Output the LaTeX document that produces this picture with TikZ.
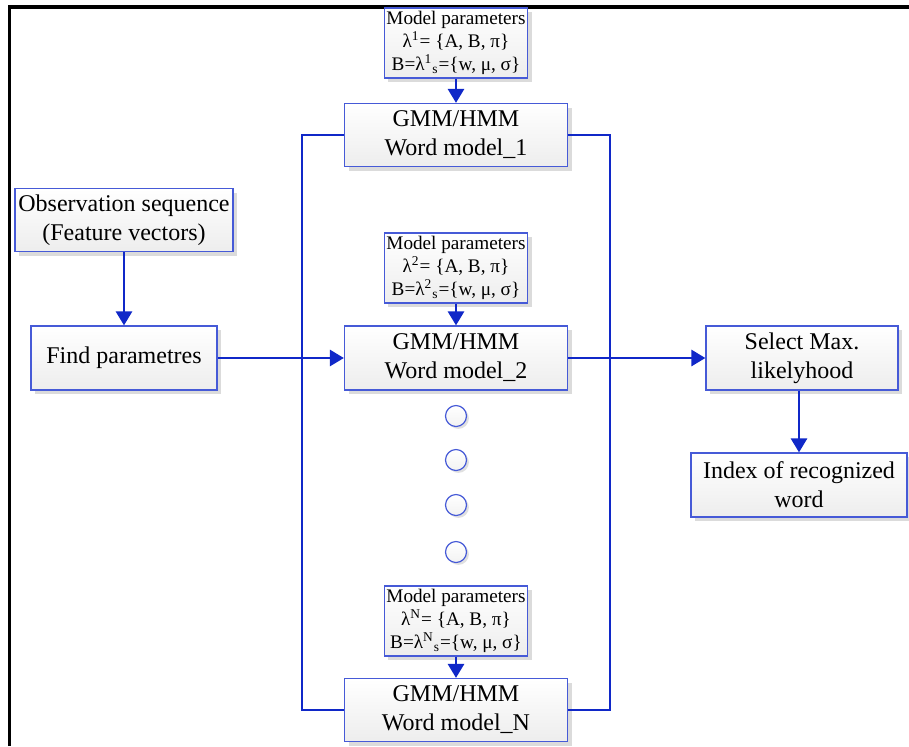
\documentclass[tikz,border=0pt]{standalone}
\usepackage{fontspec}
\setmainfont{Liberation Serif}
\usetikzlibrary{arrows.meta,shadows}

\definecolor{wireblue}{RGB}{16,40,200}
\definecolor{edgeblue}{RGB}{70,90,215}

\tikzset{
  box/.style={draw=edgeblue, line width=0.6pt, top color=white, bottom color=gray!14,
    drop shadow={shadow xshift=2pt, shadow yshift=-2pt, fill=black!14, opacity=1},
    align=center, inner sep=1pt, font=\fontsize{12}{14.5}\selectfont},
  parbox/.style={box, minimum width=68pt, minimum height=35pt,
    font=\fontsize{9.6}{11.6}\selectfont},
  wire/.style={draw=wireblue, line width=1.4pt},
  arr/.style={wire, -{Triangle[length=7pt,width=8pt]}},
  dot/.style={circle, draw=edgeblue, line width=0.6pt, minimum size=10.5pt, inner sep=0pt,
    top color=white, bottom color=gray!10,
    drop shadow={shadow xshift=1.2pt, shadow yshift=-1.2pt, fill=black!12, opacity=1}}
}

\begin{document}
\begin{tikzpicture}[x=0.5pt,y=-0.5pt]
  \useasboundingbox (0,0) rectangle (909,746);
  % frame
  \draw[line width=1.6pt] (9.5,746) -- (9.5,7) -- (909,7);

  % left column
  \node[box, minimum width=109pt, minimum height=31.5pt] (obs) at (124,220) {Observation sequence\\(Feature vectors)};
  \node[box, minimum width=93pt, minimum height=32pt] (find) at (124,358) {Find parametres};

  % word models
  \node[parbox] (par1) at (456,43) {Model parameters\\λ\textsuperscript{1}= \{A, B, π\}\\B=λ\textsuperscript{1}\textsubscript{s}=\{w, μ, σ\}};
  \node[box, minimum width=111.5pt, minimum height=31.5pt] (gmm1) at (456,135) {GMM/HMM\\Word model\_1};
  \node[parbox] (par2) at (456,268) {Model parameters\\λ\textsuperscript{2}= \{A, B, π\}\\B=λ\textsuperscript{2}\textsubscript{s}=\{w, μ, σ\}};
  \node[box, minimum width=111.5pt, minimum height=32pt] (gmm2) at (456,358) {GMM/HMM\\Word model\_2};
  \node[dot] (d1) at (456,416) {};
  \node[dot] (d2) at (456,460) {};
  \node[dot] (d3) at (456,505) {};
  \node[dot] (d4) at (456,552) {};
  \node[parbox] (parN) at (456,621) {Model parameters\\λ\textsuperscript{N}= \{A, B, π\}\\B=λ\textsuperscript{N}\textsubscript{s}=\{w, μ, σ\}};
  \node[box, minimum width=111.5pt, minimum height=31.5pt] (gmmN) at (456,710) {GMM/HMM\\Word model\_N};

  % right column
  \node[box, minimum width=96pt, minimum height=32pt] (sel) at (802,358) {Select Max.\\likelyhood};
  \node[box, minimum width=108pt, minimum height=32pt] (idx) at (799,485) {Index of recognized\\word};

  % buses
  \coordinate (lbus) at (302,0);
  \coordinate (rbus) at (610,0);
  \draw[wire] (gmm1.west) -- (gmm1.west -| lbus) -- (gmmN.west -| lbus) -- (gmmN.west);
  \draw[wire] (gmm1.east) -- (gmm1.east -| rbus) -- (gmmN.east -| rbus) -- (gmmN.east);

  % arrows
  \draw[arr] (obs) -- (find);
  \draw[arr] (find) -- (gmm2);
  \draw[arr] (gmm2) -- (sel);
  \draw[arr] (sel.south -| idx) -- (idx);
  \draw[arr] (par1) -- (gmm1);
  \draw[arr] (par2) -- (gmm2);
  \draw[arr] (parN) -- (gmmN);
\end{tikzpicture}
\end{document}
